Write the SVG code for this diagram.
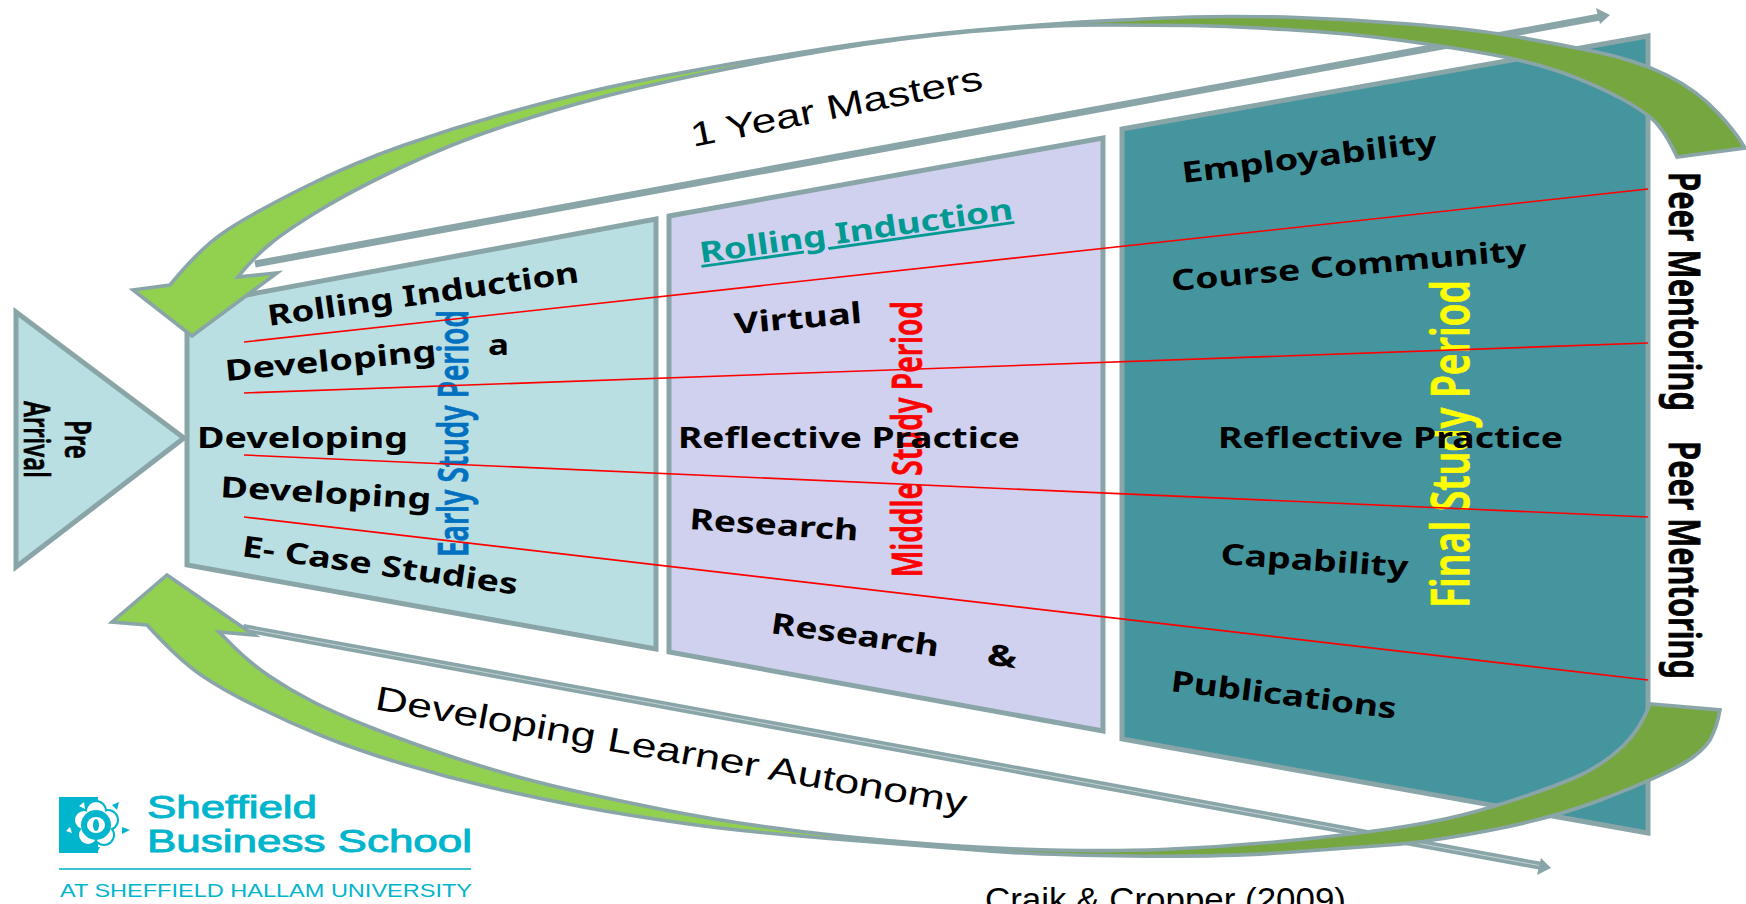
<svg xmlns="http://www.w3.org/2000/svg" width="1746" height="904" viewBox="0 0 1746 904">
<style>
text{font-family:"Noto Sans","Open Sans","Liberation Sans",sans-serif}
.panel{stroke:#8aa5a8;stroke-width:5;stroke-linejoin:miter}
.lb{font-weight:700;font-size:29px;fill:#000}
.vt{font-weight:600;font-size:42px;stroke-width:.8}
.sans{font-family:"Liberation Sans",Arial,sans-serif;fill:#000;font-size:34px}
.red{stroke:#ff0000;stroke-width:1.6;fill:none}
.gl{stroke:#8aa5a8;fill:none}
.gh{fill:#8aa5a8}
.arrow{fill:url(#gr);stroke:#8aa5a8;stroke-width:3.6;stroke-linejoin:miter}
.logo{font-family:"Liberation Sans",Arial,sans-serif;fill:#00b5cc}
</style>
<defs>
<linearGradient id="gr" gradientUnits="userSpaceOnUse" x1="0" y1="0" x2="1746" y2="0">
<stop offset="0.515" stop-color="#92d050"/><stop offset="0.515" stop-color="#76a63f"/>
</linearGradient>
</defs>
<rect width="1746" height="904" fill="#fff"/>

<g id="pre-arrival">
<polygon class="panel" fill="#b9dfe2" points="16,312 184,438 16,567"/>
<text class="lb" transform="translate(65 420) rotate(90)" textLength="39" lengthAdjust="spacingAndGlyphs" style="font-size:36px;font-weight:600;stroke:#000;stroke-width:.7">Pre</text>
<text class="lb" transform="translate(24 401) rotate(90)" textLength="77" lengthAdjust="spacingAndGlyphs" style="font-size:36px;font-weight:600;stroke:#000;stroke-width:.7">Arrival</text>
</g>

<g id="early-period">
<polygon class="panel" fill="#b9dfe2" points="187,306 656,219 656,649 187,565"/>
<text class="vt" fill="#0070c0" stroke="#0070c0" transform="translate(468 557) rotate(-90)" textLength="247" lengthAdjust="spacingAndGlyphs">Early Study Period</text>
<text class="lb" transform="translate(269 326) rotate(-8)" textLength="314" lengthAdjust="spacingAndGlyphs">Rolling Induction</text>
<text class="lb" transform="translate(226 381) rotate(-5.5)" textLength="212" lengthAdjust="spacingAndGlyphs">Developing</text>
<text class="lb" transform="translate(488 355)" textLength="21" lengthAdjust="spacingAndGlyphs">a</text>
<text class="lb" transform="translate(197 448)" textLength="211" lengthAdjust="spacingAndGlyphs">Developing</text>
<text class="lb" transform="translate(220 497) rotate(3.3)" textLength="211" lengthAdjust="spacingAndGlyphs">Developing</text>
<text class="lb" transform="translate(241 556) rotate(8)" textLength="278" lengthAdjust="spacingAndGlyphs">E- Case Studies</text>
</g>

<g id="middle-period">
<polygon class="panel" fill="#d0d1ee" points="669,216 1103,138 1103,731 669,652"/>
<text class="vt" fill="#ff0000" stroke="#ff0000" transform="translate(922 577) rotate(-90)" textLength="276" lengthAdjust="spacingAndGlyphs">Middle Study Period</text>
<text class="lb" style="fill:#009a93;text-decoration:underline" transform="translate(701 263) rotate(-8)" textLength="316" lengthAdjust="spacingAndGlyphs">Rolling Induction</text>
<text class="lb" transform="translate(735 334) rotate(-5)" textLength="128" lengthAdjust="spacingAndGlyphs">Virtual</text>
<text class="lb" transform="translate(678 448)" textLength="342" lengthAdjust="spacingAndGlyphs">Reflective Practice</text>
<text class="lb" transform="translate(689 529) rotate(4)" textLength="169" lengthAdjust="spacingAndGlyphs">Research</text>
<text class="lb" transform="translate(770 633) rotate(8)" textLength="169" lengthAdjust="spacingAndGlyphs">Research</text>
<text class="lb" transform="translate(986 664) rotate(8)" textLength="30" lengthAdjust="spacingAndGlyphs">&amp;</text>
</g>

<g id="final-period">
<polygon class="panel" fill="#45959f" points="1122,129 1648,36 1648,833 1122,739"/>
<text class="vt" fill="#ffff00" stroke="#ffff00" transform="translate(1469 608) rotate(-90)" textLength="328" lengthAdjust="spacingAndGlyphs" style="font-size:53px">Final Study Period</text>
<text class="lb" transform="translate(1183 183) rotate(-7)" textLength="257" lengthAdjust="spacingAndGlyphs">Employability</text>
<text class="lb" transform="translate(1172 291) rotate(-5)" textLength="357" lengthAdjust="spacingAndGlyphs">Course Community</text>
<text class="lb" transform="translate(1218 448)" textLength="345" lengthAdjust="spacingAndGlyphs">Reflective Practice</text>
<text class="lb" transform="translate(1220 564) rotate(4)" textLength="188" lengthAdjust="spacingAndGlyphs">Capability</text>
<text class="lb" transform="translate(1170 691) rotate(7)" textLength="227" lengthAdjust="spacingAndGlyphs">Publications</text>
</g>

<g id="peer-mentoring">
<text class="vt" fill="#000" stroke="#000" transform="translate(1669 172) rotate(90)" textLength="239" lengthAdjust="spacingAndGlyphs" style="font-size:44px;stroke-width:1">Peer Mentoring</text>
<text class="vt" fill="#000" stroke="#000" transform="translate(1669 441) rotate(90)" textLength="238" lengthAdjust="spacingAndGlyphs" style="font-size:44px;stroke-width:1">Peer Mentoring</text>
</g>

<g id="connectors">
<line class="red" x1="244" y1="342" x2="1648" y2="189"/>
<line class="red" x1="244" y1="393" x2="1648" y2="343"/>
<line class="red" x1="244" y1="455" x2="1648" y2="517"/>
<line class="red" x1="244" y1="517" x2="1648" y2="680"/>
<line class="gl" stroke-width="7" x1="255" y1="264" x2="1600" y2="17"/>
<polygon class="gh" points="1596,8 1610,15 1600,24"/>
<line class="gl" stroke-width="8" x1="243" y1="628" x2="1542" y2="866"/>
<line stroke="#c3d2d4" stroke-width="1" x1="243" y1="628" x2="1542" y2="866"/>
<polygon class="gh" points="1541,858 1551,868 1537,875"/>
</g>

<g id="one-year-masters">
<text class="sans" transform="translate(693 147) rotate(-11.3)" textLength="297" lengthAdjust="spacingAndGlyphs">1 Year Masters</text>
</g>
<g id="learner-autonomy">
<text class="sans" transform="translate(374 709) rotate(10.1)" textLength="600" lengthAdjust="spacingAndGlyphs">Developing Learner Autonomy</text>
</g>

<g id="arrow-top">
<path class="arrow" d="M170,285 Q200,248 226.5,230.5 Q253,213 303,188 Q353,163 403,145.5 Q453,128 503,114 Q553,100 596.5,90 Q640,80 702,69 Q764,58 832,47.5 Q900,37 971.5,30.5 Q1043,24 1101,21 Q1160,18 1192,17 Q1224,16 1285,17 Q1347,19 1409,24 Q1471,29 1512,36 Q1553,43 1594.5,51.5 Q1636,60 1666.5,75 Q1697,90 1718,113 Q1735,131 1745,148 L1677,157 Q1668,137 1658,125 Q1648,113 1621,98.5 Q1594,84 1563.5,73 Q1533,62 1491.5,54.5 Q1450,47 1398.5,40 Q1347,33 1285.5,29.5 Q1224,26 1192,25.5 Q1160,25 1101.5,25 Q1043,25 971.5,31.5 Q900,38 832,49.5 Q764,61 702,74 Q640,87 596.5,98.5 Q553,110 503,126.5 Q453,143 403,166.5 Q353,190 320,210 Q287,230 270,244 Q253,258 238,277 L277,273 L192,336 L133,290 Z"/>
</g>
<g id="arrow-bottom">
<path class="arrow" d="M147,625 Q179,660 201,675 Q223,690 256.5,706.5 Q290,723 323.5,736.5 Q357,750 401.5,763.5 Q446,777 491,787.5 Q536,798 580.5,806.5 Q625,815 685,823.5 Q745,832 841,839.5 Q937,847 988.5,851 Q1040,855 1132,856 Q1224,857 1285.5,852.5 Q1347,848 1388.5,845 Q1430,842 1491.5,830 Q1553,818 1600.5,800 Q1648,782 1677,767 Q1700,755 1710,740 Q1717,727 1720,710 L1650,704 Q1640,730 1623,746 Q1602,766 1574,778 Q1555,786 1534.5,793 Q1495,807 1462.5,815 Q1430,823 1388.5,829 Q1347,835 1285.5,841 Q1224,847 1162,849.5 Q1100,852 1018.5,849 Q937,846 841,836 Q745,826 662.5,809.5 Q580,793 535.5,781.5 Q491,770 446.5,755 Q402,740 368.5,726.5 Q335,713 312.5,701.5 Q290,690 270,676.5 Q250,663 234.5,647.5 L219,632 L254,635 L167,575 L112,622 Z"/>
</g>

<g id="logo">
<rect x="59" y="797" width="39" height="56" fill="#00b5cc"/>
<g fill="#00b5cc">
<circle cx="96" cy="811" r="11"/><circle cx="108" cy="820" r="11"/><circle cx="104" cy="835" r="11"/><circle cx="88" cy="835" r="11"/><circle cx="84" cy="820" r="11"/>
</g>
<g fill="#fff">
<circle cx="96" cy="811" r="9"/><circle cx="108" cy="820" r="9"/><circle cx="104" cy="835" r="9"/><circle cx="88" cy="835" r="9"/><circle cx="84" cy="820" r="9"/>
</g>
<circle cx="96" cy="825" r="15" fill="#00b5cc"/>
<ellipse cx="96" cy="825" rx="9" ry="8" fill="#fff"/>
<ellipse cx="96" cy="825" rx="3" ry="6" fill="#00b5cc"/>
<polygon fill="#00b5cc" points="112,805 119,802 117,810"/>
<polygon fill="#00b5cc" points="122,827 130,830 122,834"/>
<polygon fill="#00b5cc" points="94,847 100,847 97,853"/>
<polygon fill="#fff" points="79,806 84,802 85,809"/>
<polygon fill="#fff" points="70,827 66,831 72,833"/>
<text class="logo" x="147" y="818" font-size="32" textLength="170" lengthAdjust="spacingAndGlyphs" style="stroke:#00b5cc;stroke-width:.9">Sheffield</text>
<text class="logo" x="147" y="852" font-size="32" textLength="325" lengthAdjust="spacingAndGlyphs" style="stroke:#00b5cc;stroke-width:.9">Business School</text>
<line x1="59" y1="869" x2="471" y2="869" stroke="#3cc3d3" stroke-width="2"/>
<text class="logo" x="60" y="897" font-size="19" textLength="412" lengthAdjust="spacingAndGlyphs">AT SHEFFIELD HALLAM UNIVERSITY</text>
</g>

<g id="citation">
<text class="sans" x="985" y="911" style="font-size:33px" textLength="361" lengthAdjust="spacingAndGlyphs">Craik &amp; Cropper (2009)</text>
</g>
</svg>
